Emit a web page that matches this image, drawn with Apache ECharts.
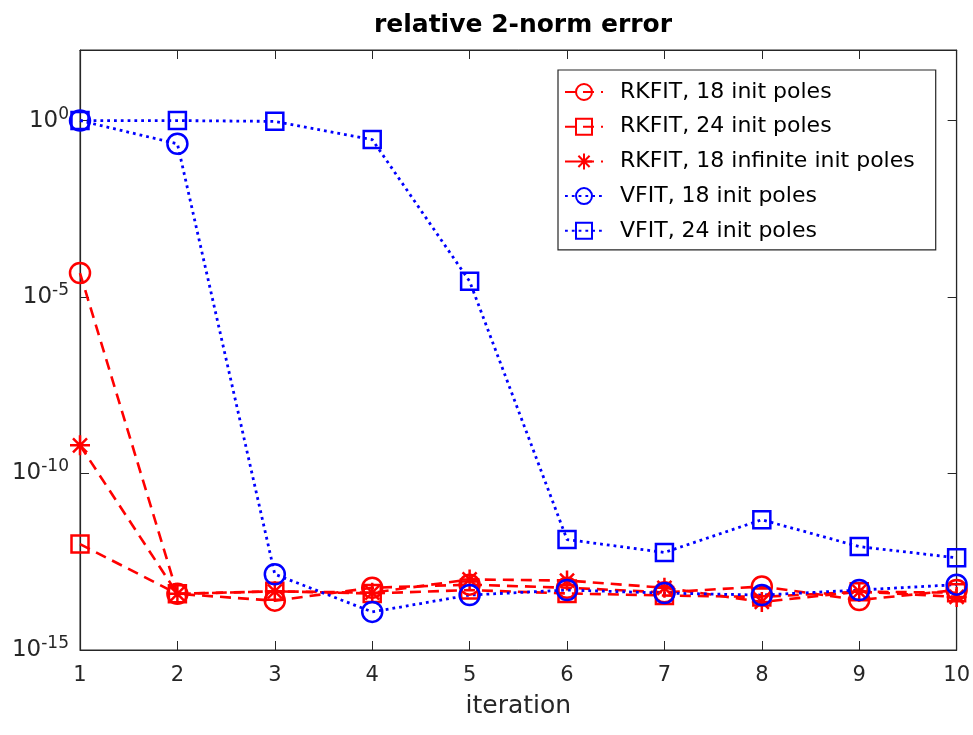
<!DOCTYPE html>
<html>
<head>
<meta charset="utf-8">
<script src="https://cdn.jsdelivr.net/npm/echarts@6/dist/echarts.min.js"></script>
<style>
html,body{margin:0;padding:0;background:#fff;}
#chart{width:973px;height:735px;}
</style>
</head>
<body>
<div id="chart"></div>
<script>
const iterations = [1, 2, 3, 4, 5, 6, 7, 8, 9, 10];
const rkfit18 = [4.8e-5, 3.9e-14, 2.5e-14, 5.8e-14, 7.1e-14, 5.8e-14, 4.3e-14, 6.3e-14, 2.6e-14, 5.0e-14];
const rkfit24 = [1.0e-12, 3.9e-14, 4.6e-14, 4.0e-14, 5.0e-14, 4.0e-14, 3.5e-14, 3.2e-14, 4.5e-14, 4.2e-14];
const rkfitInf18 = [6.3e-10, 3.9e-14, 4.6e-14, 4.2e-14, 1.0e-13, 9.3e-14, 5.8e-14, 2.3e-14, 4.5e-14, 3.2e-14];
const vfit18 = [1.0, 0.22, 1.4e-13, 1.2e-14, 3.6e-14, 5.0e-14, 4.1e-14, 3.6e-14, 5.0e-14, 7.1e-14];
const vfit24 = [1.0, 1.0, 0.95, 0.29, 2.8e-5, 1.35e-12, 5.8e-13, 4.9e-12, 8.5e-13, 4.1e-13];
const seriesNames = ['RKFIT, 18 init poles', 'RKFIT, 24 init poles', 'RKFIT, 18 infinite init poles', 'VFIT, 18 init poles', 'VFIT, 24 init poles'];

const RED = '#ff0000', BLUE = '#0000ff', AX = '#262626';
const FONT = '"DejaVu Sans", "Liberation Sans", Arial, sans-serif';
const STAR = 'path://M0,-10L0,10M-10,0L10,0M-7,-7L7,7M-7,7L7,-7';

function pts(arr) { return iterations.map((x, i) => [x, arr[i]]); }
function mk(name, arr, color, symbol, size, dash, width) {
  return {
    name: name, type: 'line', data: pts(arr),
    symbol: symbol, symbolSize: size,
    itemStyle: { color: 'rgba(255,255,255,0)', borderColor: color, borderWidth: 2.5 },
    lineStyle: { color: color, width: width, type: dash, cap: 'butt' },
    emphasis: { disabled: true }
  };
}
const dashed = [11, 7], dotted = [2.8, 4];

const chart = echarts.init(document.getElementById('chart'));
chart.setOption({
  animation: false,
  backgroundColor: '#fff',
  textStyle: { fontFamily: FONT },
  title: {
    text: 'relative 2-norm error', left: 518, textAlign: 'center', top: 8,
    textStyle: { fontSize: 25, fontWeight: 'bold', color: '#000', fontFamily: FONT }
  },
  grid: { left: 80, right: 16, top: 50, bottom: 85, show: true, borderColor: AX, borderWidth: 1, backgroundColor: '#fff' },
  legend: {
    orient: 'vertical', left: 558, top: 70,
    data: seriesNames,
    itemWidth: 38, itemHeight: 20, itemGap: 12.7,
    padding: [11, 21, 8, 6],
    borderColor: AX, borderWidth: 1.2, backgroundColor: '#fff',
    textStyle: { fontSize: 22, color: '#000', fontFamily: FONT, padding: [0, 0, 0, 12] }
  },
  xAxis: [{
    type: 'value', min: 1, max: 10, interval: 1, position: 'bottom',
    axisLine: { show: true, lineStyle: { color: AX, width: 1.2 } },
    axisTick: { inside: true, length: 9, lineStyle: { color: AX } },
    axisLabel: { fontSize: 21, color: AX, margin: 15, fontFamily: FONT },
    splitLine: { show: false },
    name: 'iteration', nameLocation: 'middle', nameGap: 44,
    nameTextStyle: { fontSize: 25, color: AX, fontFamily: FONT }
  }, {
    type: 'value', min: 1, max: 10, interval: 1, position: 'top',
    axisLine: { show: true, lineStyle: { color: AX, width: 1.2 } },
    axisTick: { inside: true, length: 9, lineStyle: { color: AX } },
    axisLabel: { show: false }, splitLine: { show: false }
  }],
  yAxis: [{
    type: 'log', logBase: 10, min: 1e-15, max: 1e2, interval: 5,
    axisLine: { show: true, lineStyle: { color: AX, width: 1.2 } },
    axisTick: { inside: true, length: 9, lineStyle: { color: AX } },
    splitLine: { show: false }, minorTick: { show: false },
    axisLabel: {
      showMaxLabel: false, margin: 11, color: AX, fontFamily: FONT,
      formatter: function (v) {
        const e = Math.round(Math.log10(v));
        if (e % 5 !== 0) return '';
        return '{b|10}{s|' + e + '}';
      },
      rich: {
        b: { fontSize: 23, color: AX, fontFamily: FONT },
        s: { fontSize: 17, color: AX, fontFamily: FONT, padding: [0, 0, 13, 0] }
      }
    }
  }, {
    type: 'log', logBase: 10, min: 1e-15, max: 1e2, interval: 5, position: 'right',
    axisLine: { show: true, lineStyle: { color: AX, width: 1.2 } },
    axisTick: { inside: true, length: 9, lineStyle: { color: AX } },
    axisLabel: { show: false }, splitLine: { show: false }
  }],
  series: [
    mk(seriesNames[0], rkfit18, RED, 'circle', 20, dashed, 2.6),
    mk(seriesNames[1], rkfit24, RED, 'rect', 17, dashed, 2.6),
    mk(seriesNames[2], rkfitInf18, RED, STAR, 20, dashed, 2.6),
    mk(seriesNames[3], vfit18, BLUE, 'circle', 20, dotted, 2.8),
    mk(seriesNames[4], vfit24, BLUE, 'rect', 17, dotted, 2.8)
  ]
});
</script>
</body>
</html>
